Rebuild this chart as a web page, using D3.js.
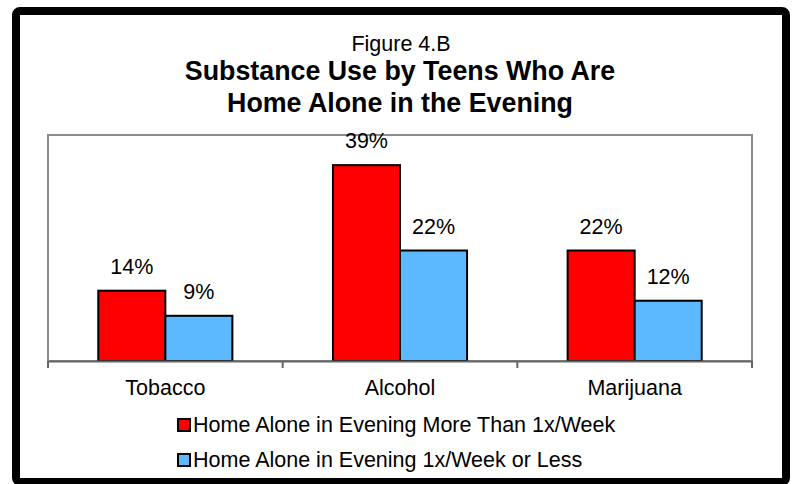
<!DOCTYPE html>
<html>
<head>
<meta charset="utf-8">
<script src="https://cdn.jsdelivr.net/npm/d3@7"></script>
<style>
  body { margin: 0; background: #fff; }
  text { font-family: Arial, "Liberation Sans", sans-serif; fill: #000; }
</style>
</head>
<body>
<svg id="chart" width="792" height="484"></svg>
<script>
var categories = ["Tobacco", "Alcohol", "Marijuana"];
var seriesNames = ["Home Alone in Evening More Than 1x/Week", "Home Alone in Evening 1x/Week or Less"];
var moreThanOnce = [14, 39, 22];
var onceOrLess = [9, 22, 12];
var colors = ["#ff0000", "#5cb8ff"];

var svg = d3.select("#chart");
var plot = { left: 48, right: 752, top: 135, bottom: 361 };

// outer frame
svg.append("rect")
  .attr("x", 16).attr("y", 11)
  .attr("width", 770).attr("height", 471)
  .attr("rx", 4)
  .attr("fill", "#fff")
  .attr("stroke", "#000")
  .attr("stroke-width", 8);

// titles
svg.append("text").attr("x", 401).attr("y", 51)
  .attr("text-anchor", "middle").style("font-size", "21.5px")
  .text("Figure 4.B");
svg.append("text").attr("x", 400).attr("y", 80)
  .attr("text-anchor", "middle").style("font-size", "26.8px").style("font-weight", "bold")
  .text("Substance Use by Teens Who Are");
svg.append("text").attr("x", 400).attr("y", 112)
  .attr("text-anchor", "middle").style("font-size", "26.8px").style("font-weight", "bold")
  .text("Home Alone in the Evening");

// plot area border
svg.append("rect")
  .attr("x", plot.left).attr("y", plot.top)
  .attr("width", plot.right - plot.left).attr("height", plot.bottom - plot.top)
  .attr("fill", "none").attr("stroke", "#8c8c8c").attr("stroke-width", 2);

var x0 = d3.scaleBand().domain(categories).range([plot.left, plot.right]).paddingInner(0).paddingOuter(0);
var x1 = d3.scaleBand().domain([0, 1]).range([0, x0.bandwidth()]).paddingInner(0).paddingOuter(0.75);
var y = d3.scaleLinear().domain([0, 45]).range([plot.bottom, plot.top]);

var rows = categories.map(function (c, i) {
  return { key: c, values: [moreThanOnce[i], onceOrLess[i]] };
});

var groups = svg.selectAll("g.cat")
  .data(rows)
  .enter()
  .append("g")
  .attr("class", "cat")
  .attr("transform", function (d) { return "translate(" + x0(d.key) + ",0)"; });

groups.selectAll("rect")
  .data(function (d) { return d.values; })
  .enter()
  .append("rect")
  .attr("x", function (d, i) { return x1(i); })
  .attr("y", function (d) { return y(d); })
  .attr("width", x1.bandwidth())
  .attr("height", function (d) { return y(0) - y(d); })
  .attr("fill", function (d, i) { return colors[i]; })
  .attr("stroke", "#000")
  .attr("stroke-width", 2);

groups.selectAll("text.val")
  .data(function (d) { return d.values; })
  .enter()
  .append("text")
  .attr("class", "val")
  .attr("x", function (d, i) { return x1(i) + x1.bandwidth() / 2; })
  .attr("y", function (d) { return y(d) - 17; })
  .attr("text-anchor", "middle")
  .style("font-size", "21.5px")
  .text(function (d) { return d + "%"; });

// x axis
var xAxis = svg.append("g")
  .attr("transform", "translate(0," + plot.bottom + ")")
  .call(d3.axisBottom(x0).tickSize(0).tickPadding(19));
xAxis.select(".domain").attr("stroke", "#666").attr("stroke-width", 2);
xAxis.selectAll("text").style("font-size", "21.5px").attr("fill", "#000")
  .style("font-family", "Arial, 'Liberation Sans', sans-serif");

var boundaries = categories.map(function (c) { return x0(c); }).concat([plot.right]);
svg.selectAll("line.tick")
  .data(boundaries)
  .enter()
  .append("line")
  .attr("x1", function (d) { return d; }).attr("x2", function (d) { return d; })
  .attr("y1", plot.bottom).attr("y2", plot.bottom + 7)
  .attr("stroke", "#666").attr("stroke-width", 2);

// legend
var legend = svg.selectAll("g.legend")
  .data(seriesNames)
  .enter()
  .append("g")
  .attr("class", "legend")
  .attr("transform", function (d, i) { return "translate(178," + (419 + i * 35) + ")"; });
legend.append("rect")
  .attr("width", 12).attr("height", 12)
  .attr("fill", function (d, i) { return colors[i]; })
  .attr("stroke", "#000").attr("stroke-width", 2);
legend.append("text")
  .attr("x", 15).attr("y", 13)
  .style("font-size", "21.5px")
  .text(function (d) { return d; });
</script>
</body>
</html>
